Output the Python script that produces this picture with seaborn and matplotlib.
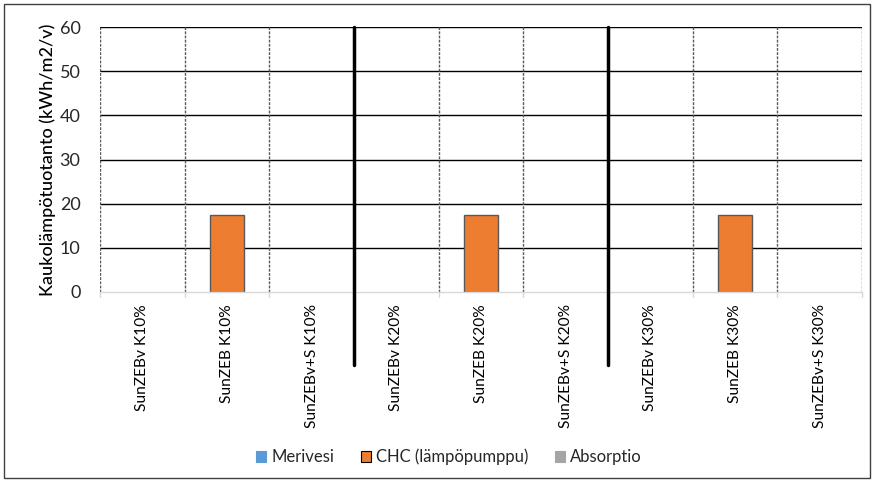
import matplotlib
matplotlib.use("Agg")
import matplotlib.pyplot as plt
import seaborn as sns
import numpy as np
import pandas as pd
from matplotlib.patches import Rectangle
from matplotlib.lines import Line2D
import matplotlib.transforms as mtransforms

categories = ["SunZEBv K10%", "SunZEB K10%", "SunZEBv+S K10%",
              "SunZEBv K20%", "SunZEB K20%", "SunZEBv+S K20%",
              "SunZEBv K30%", "SunZEB K30%", "SunZEBv+S K30%"]
merivesi = [0, 0, 0, 0, 0, 0, 0, 0, 0]
chc = [0, 17.5, 0, 0, 17.5, 0, 0, 17.5, 0]
absorptio = [0, 0, 0, 0, 0, 0, 0, 0, 0]
series_names = ["Merivesi", "CHC (lämpöpumppu)", "Absorptio"]
colors = ["#5B9BD5", "#ED7D31", "#A5A5A5"]
edges = ["none", "#595959", "none"]
yticks = [0, 10, 20, 30, 40, 50, 60]

sns.set_style("white")
plt.rcParams['font.family'] = ['Lato', 'DejaVu Sans']

fig = plt.figure(figsize=(8.75, 4.83), dpi=100)
ax = fig.add_axes([100/875, 1-292/483, 762/875, 265/483])

df = pd.DataFrame({"cat": categories, "Merivesi": merivesi,
                   "CHC": chc, "Absorptio": absorptio})
bottom = np.zeros(len(categories))
for col, name, c, ec in zip(["Merivesi", "CHC", "Absorptio"], series_names, colors, edges):
    vals = df[col].values
    sns.barplot(data=df, x="cat", y=col, bottom=bottom, color=c, width=0.4,
                saturation=1, edgecolor=ec, linewidth=(1.0 if ec != "none" else 0),
                ax=ax, errorbar=None, order=categories)
    bottom = bottom + vals
for p in ax.patches:
    if p.get_height() == 0:
        p.set_visible(False)

ax.set_ylim(0, 60)
ax.set_xlim(-0.5, len(categories) - 0.5)
ax.set_yticks(yticks)
ax.set_yticklabels([str(t) for t in yticks], fontsize=13, color="#262626")
ax.set_xticks(range(len(categories)))
ax.set_xticklabels(categories, rotation=90, fontsize=11.2, color="#000000")
ax.tick_params(axis='x', length=0, pad=9)
ax.tick_params(axis='y', length=0, pad=14)
ax.set_xlabel("")
ax.set_ylabel("Kaukolämpötuotanto (kWh/m2/v)", fontsize=13, color="#000000",
              labelpad=3, fontweight="medium")

# horizontal gridlines
for t in yticks[1:]:
    ax.axhline(t, color="black", lw=1.0, zorder=0.5)
for s in ["left", "right", "top"]:
    ax.spines[s].set_visible(False)
ax.spines["bottom"].set_color("#D9D9D9")
ax.spines["bottom"].set_linewidth(1.0)

# dashed boundaries
blend = mtransforms.blended_transform_factory(ax.transData, ax.transAxes)
for b in [-0.5, 0.5, 1.5, 3.5, 4.5, 6.5, 7.5, 8.5]:
    ax.plot([b, b], [0, 1], transform=blend, color="#595959", lw=1.0,
            ls=(0, (2, 1)), zorder=0.6)
    ax.plot([b, b], [-0.02, 0], transform=blend, color="#D9D9D9", lw=1.0,
            clip_on=False)
for b in [2.5, 5.5]:
    ax.add_line(Line2D([b, b], [-0.275, 1], transform=blend, color="black",
                       lw=2.5, clip_on=False, zorder=3))

handles = [Rectangle((0, 0), 1, 1, facecolor=c, edgecolor=("#000000" if i == 1 else c), lw=0.8)
           for i, c in enumerate(colors)]
fig.legend(handles, series_names, loc="center", bbox_to_anchor=(449/875, 1-457/483),
           ncol=3, frameon=False, fontsize=12, handlelength=0.6, handleheight=0.6,
           columnspacing=1.6, handletextpad=0.3)

fig.patches.append(Rectangle((4/875, 1-478/483), 866/875, 474/483, transform=fig.transFigure,
                             fill=False, edgecolor="#404040", lw=1.0))

fig.savefig("out.png", dpi=100)
